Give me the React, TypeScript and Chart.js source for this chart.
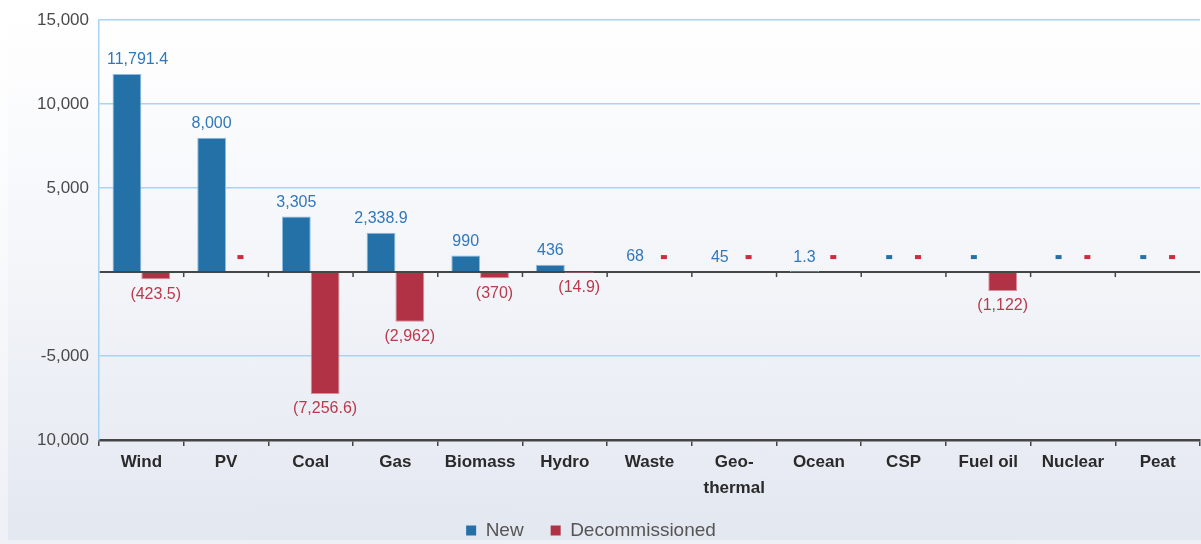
import { useEffect, useRef } from "react";
import { Chart, registerables } from "chart.js";

Chart.register(...registerables);

const categories: (string | string[])[] = [
  "Wind", "PV", "Coal", "Gas", "Biomass", "Hydro", "Waste",
  ["Geo-", "thermal"], "Ocean", "CSP", "Fuel oil", "Nuclear", "Peat",
];
const newValues = [11791.4, 8000, 3305, 2338.9, 990, 436, 68, 45, 1.3, 0, 0, 0, 0];
const decommissionedValues = [-423.5, 0, -7256.6, -2962, -370, -14.9, 0, 0, 0, 0, -1122, 0, 0];
const yTickValues = [15000, 10000, 5000, 0, -5000, -10000];
const yTickLabels = ["15,000", "10,000", "5,000", "", "-5,000", "10,000"];

const BLUE = "#2471a8";
const RED = "#b03244";
const BLUE_TEXT = "#3178bb";
const RED_TEXT = "#b93a4c";
const GRID = "#a9d4f1";
const DARK = "#454545";
const FONT = "'Liberation Sans', Arial, sans-serif";

const fmt = (v: number) => v.toLocaleString("en-US", { maximumFractionDigits: 1 });

const zeroTicksPlugin = {
  id: "zeroTicks",
  afterDatasetsDraw(chart: any) {
    const { ctx, chartArea } = chart;
    const x = chart.scales.x;
    const y0 = chart.scales.y.getPixelForValue(0);
    const n = categories.length;
    const w = (chartArea.right - chartArea.left) / n;
    ctx.save();
    ctx.strokeStyle = DARK;
    ctx.lineWidth = 1.5;
    for (let i = 1; i < n; i++) {
      const px = x.getPixelForValue(i) - w / 2;
      ctx.beginPath();
      ctx.moveTo(px, y0);
      ctx.lineTo(px, y0 + 5);
      ctx.stroke();
    }
    ctx.restore();
  },
};

const valueLabelsPlugin = {
  id: "valueLabels",
  afterDatasetsDraw(chart: any) {
    const ctx = chart.ctx;
    const y0 = chart.scales.y.getPixelForValue(0);
    const left = chart.chartArea.left;
    const textColors = [BLUE_TEXT, RED_TEXT];
    const dashColors = [BLUE, "#d02a40"];
    chart.data.datasets.forEach((ds: any, di: number) => {
      const meta = chart.getDatasetMeta(di);
      meta.data.forEach((el: any, i: number) => {
        const v = ds.data[i] as number;
        const { x, y } = el.getProps(["x", "y"], true);
        ctx.save();
        ctx.font = `16px ${FONT}`;
        ctx.textAlign = "center";
        ctx.textBaseline = "middle";
        ctx.fillStyle = textColors[di];
        if (v !== 0) {
          const txt = v > 0 ? fmt(v) : "(" + fmt(-v) + ")";
          const half = ctx.measureText(txt).width / 2;
          const cx = Math.max(x, left + 8 + half);
          ctx.fillText(txt, cx, v > 0 ? y - 14 : y + 15);
        } else {
          ctx.fillStyle = dashColors[di];
          ctx.fillRect(x - 3, y0 - 17, 6, 4);
        }
        ctx.restore();
      });
    });
  },
};

// canvas placement on the page
const CANVAS_LEFT = -18;
const CANVAS_W = 1219;
const CANVAS_H = 552;

export default function App() {
  const ref = useRef<HTMLCanvasElement | null>(null);

  useEffect(() => {
    if (!ref.current) return;
    const chart = new Chart(ref.current, {
      type: "bar",
      data: {
        labels: categories,
        datasets: [
          {
            label: "New",
            data: newValues,
            backgroundColor: BLUE,
            borderColor: "#8dbbe0",
            borderWidth: (c: any) => (c.raw === 0 ? 0 : 1),
            categoryPercentage: 0.68,
            barPercentage: 1,
          },
          {
            label: "Decommissioned",
            data: decommissionedValues,
            backgroundColor: RED,
            borderColor: "#d98d99",
            borderWidth: (c: any) => (c.raw === 0 ? 0 : 1),
            categoryPercentage: 0.68,
            barPercentage: 1,
          },
        ],
      },
      options: {
        responsive: false,
        animation: false,
        layout: { padding: { top: 20, right: 1, left: 0, bottom: 2 } },
        plugins: {
          tooltip: { enabled: false },
          legend: {
            position: "bottom",
            labels: {
              boxWidth: 10,
              boxHeight: 10,
              padding: 27,
              color: "#555555",
              font: { family: FONT, size: 19 },
              generateLabels: (chart: any) =>
                chart.data.datasets.map((ds: any, i: number) => ({
                  text: ds.label,
                  fillStyle: ds.backgroundColor,
                  strokeStyle: ds.backgroundColor,
                  lineWidth: 0,
                  hidden: false,
                  datasetIndex: i,
                  fontColor: "#555555",
                })),
            },
          },
        },
        scales: {
          x: {
            offset: true,
            grid: {
              offset: true,
              drawOnChartArea: false,
              drawTicks: true,
              tickLength: 6,
              color: DARK,
              lineWidth: 1.5,
            },
            border: { display: true, color: DARK, width: 2.5 },
            ticks: {
              color: "#2a2a2a",
              padding: 4,
              font: { family: FONT, size: 17, weight: "bold", lineHeight: 1.5 },
              maxRotation: 0,
              autoSkip: false,
            },
            afterFit: (s: any) => {
              s.height = 54;
            },
          },
          y: {
            min: -10000,
            max: 15000,
            grid: {
              drawTicks: false,
              color: (c: any) =>
                c.tick && (c.tick.value === 0 || c.tick.value === -10000) ? DARK : GRID,
              lineWidth: (c: any) => (c.tick && c.tick.value === 0 ? 2 : 1.5),
            },
            border: { display: true, color: GRID, width: 1.5 },
            ticks: {
              stepSize: 5000,
              padding: 10,
              color: "#4a4a4a",
              font: { family: FONT, size: 17 },
              callback: (v: any) => {
                const idx = yTickValues.indexOf(Number(v));
                return idx >= 0 ? yTickLabels[idx] : "";
              },
            },
            afterFit: (s: any) => {
              s.width = 99 - CANVAS_LEFT;
            },
          },
        },
      },
      plugins: [zeroTicksPlugin, valueLabelsPlugin],
    } as any);
    return () => chart.destroy();
  }, []);

  return (
    <div
      style={{
        position: "fixed",
        inset: 0,
        overflow: "hidden",
        background: "linear-gradient(to bottom, #ffffff 0%, #fbfcfd 30%, #eef0f6 100%)",
      }}
    >
      <div
        style={{
          position: "absolute",
          left: 8,
          top: 0,
          width: 1193,
          height: 540,
          background: "linear-gradient(to bottom, #ffffff 0%, #fdfdfe 12%, #f3f5f9 50%, #e3e7f0 100%)",
        }}
      />
      <canvas
        ref={ref}
        width={CANVAS_W}
        height={CANVAS_H}
        style={{ position: "absolute", left: CANVAS_LEFT, top: 0, display: "block" }}
      />
    </div>
  );
}
